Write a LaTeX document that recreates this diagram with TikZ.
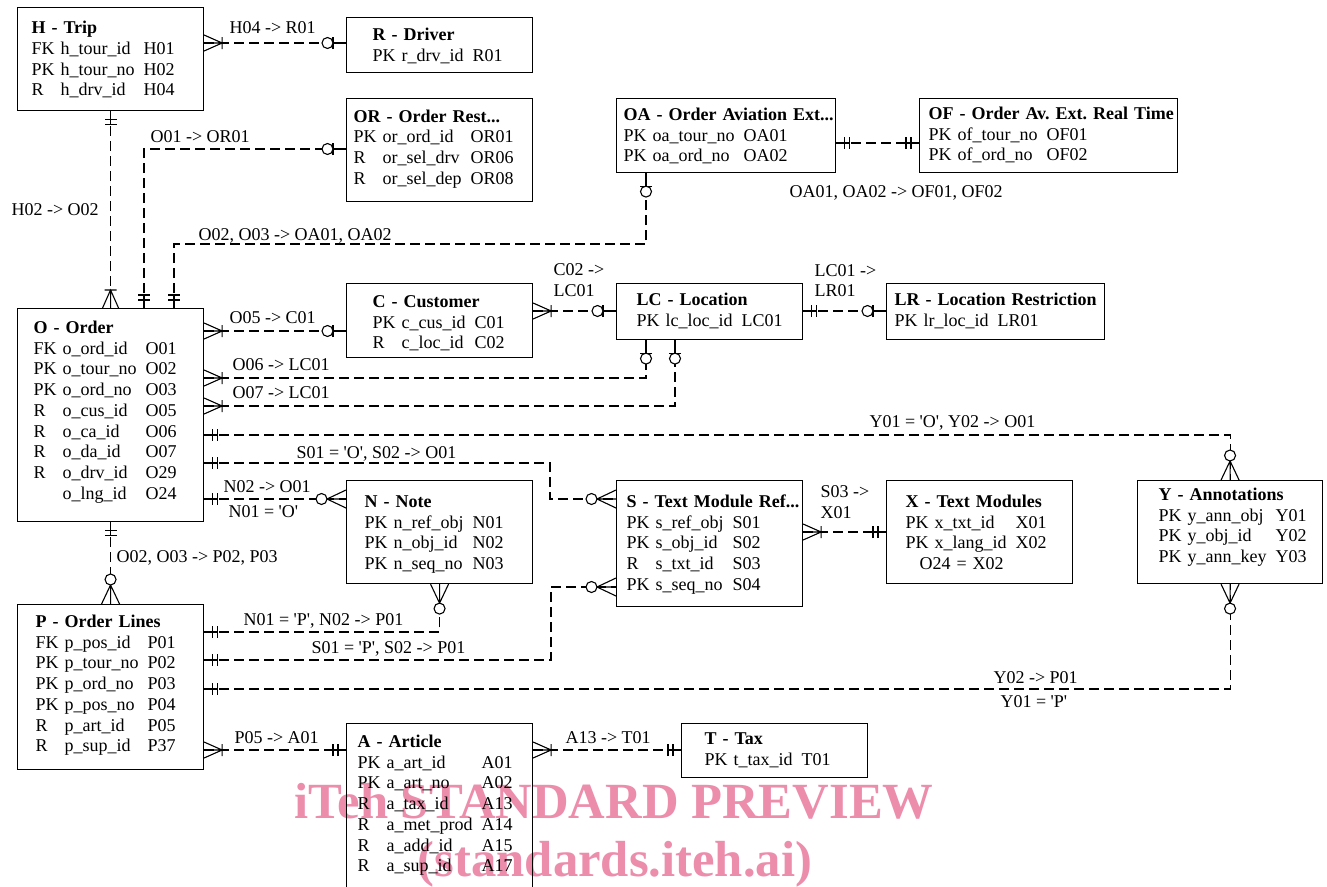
\documentclass[tikz,border=0pt]{standalone}
\usepackage{fontspec}
\setmainfont{Liberation Serif}
\usepackage{tikz}
\frenchspacing
\definecolor{wmpink}{RGB}{236,141,172}
\newcommand{\q}{\textquotesingle}
\newcommand{\ent}[2]{\noindent\begin{tabular}[t]{@{}l@{\hspace{6pt}}l@{\hspace{9pt}}l@{}}\multicolumn{3}{@{}l@{}}{\textbf{#1}}\\#2\end{tabular}}

\begin{document}
\begin{tikzpicture}[x=1pt,y=-1pt,line width=1.1pt,
  entity/.style={draw,anchor=north west,inner ysep=0pt,align=left,font=\fontsize{18}{20.7}\selectfont},
  dims/.style n args={4}{inner xsep=#1pt,text width=#2pt,text height=#3pt,text depth=#4pt},
  lbl/.style={anchor=base west,inner sep=0pt,font=\fontsize{18}{20.7}\selectfont},
  rel/.style={dash pattern=on 10pt off 5pt},
  wm/.style={anchor=base,inner sep=0pt,text=wmpink,font=\bfseries\fontsize{50.7}{60}\selectfont},
  onlyone/.pic={\draw[solid] (0,0) -- (14,0) (8,-6) -- (8,6) (13,-6) -- (13,6);},
  zeroone/.pic={\draw[solid] (0,0) -- (13,0) (13,-6) -- (13,6);
    \draw[solid,fill=white] (18.5,0) circle[radius=5.5];},
  onemany/.pic={\draw[solid] (0,0) -- (18,0) (0,-8) -- (18,0) -- (0,8) (18,-6) -- (18,6);},
  zeromany/.pic={\draw[solid] (0,0) -- (19,0) (0,-9) -- (19,0) -- (0,9);
    \draw[solid,fill=white] (24.5,0) circle[radius=5.5];}]
  \useasboundingbox (0,0) rectangle (1327,886);
  \clip (0,0) rectangle (1327,886);

  % Watermark
  \node[wm] (wm1) at (614,818) {iTeh STANDARD PREVIEW};
  \node[wm] (wm2) at (615,876) {(standards.iteh.ai)};

  % Tables
  \node[entity,dims={14}{158}{26.3}{76.7}] (H) at (17,7)
    {\ent{H - Trip}{FK & h\_tour\_id & H01\\ PK & h\_tour\_no & H02\\ R & h\_drv\_id & H04}};
  \node[entity,dims={26}{134}{23}{32}] (R) at (346,17)
    {\ent{R - Driver}{PK & r\_drv\_id & R01}};
  \node[entity,dims={7}{172}{23.7}{79.3}] (OR) at (346,98)
    {\ent{OR - Order Rest...}{PK & or\_ord\_id & OR01\\ R & or\_sel\_drv & OR06\\ R & or\_sel\_dep & OR08}};
  \node[entity,dims={7}{205}{22}{52}] (OA) at (616,98)
    {\ent{OA - Order Aviation Ext...}{PK & oa\_tour\_no & OA01\\ PK & oa\_ord\_no & OA02}};
  \node[entity,dims={9}{240}{21}{53}] (OF) at (919,98)
    {\ent{OF - Order Av. Ext. Real Time}{PK & of\_tour\_no & OF01\\ PK & of\_ord\_no & OF02}};
  \node[entity,dims={26}{134}{24}{50}] (C) at (346,283)
    {\ent{C - Customer}{PK & c\_cus\_id & C01\\ R & c\_loc\_id & C02}};
  \node[entity,dims={20}{146}{22}{34}] (LC) at (616,283)
    {\ent{LC - Location}{PK & lc\_loc\_id & LC01}};
  \node[entity,dims={8}{202}{22}{34}] (LR) at (886,283)
    {\ent{LR - Location Restriction}{PK & lr\_loc\_id & LR01}};
  \node[entity,dims={16}{154}{25}{188}] (O) at (17,308)
    {\ent{O - Order}{FK & o\_ord\_id & O01\\ PK & o\_tour\_no & O02\\ PK & o\_ord\_no & O03\\
      R & o\_cus\_id & O05\\ R & o\_ca\_id & O06\\ R & o\_da\_id & O07\\ R & o\_drv\_id & O29\\
      & o\_lng\_id & O24}};
  \node[entity,dims={18}{150}{27}{76}] (N) at (346,480)
    {\ent{N - Note}{PK & n\_ref\_obj & N01\\ PK & n\_obj\_id & N02\\ PK & n\_seq\_no & N03}};
  \node[entity,dims={10}{166}{27}{99}] (S) at (616,480)
    {\ent{S - Text Module Ref...}{PK & s\_ref\_obj & S01\\ PK & s\_obj\_id & S02\\ R & s\_txt\_id & S03\\
      PK & s\_seq\_no & S04}};
  \node[entity,dims={19}{148}{27}{76}] (X) at (886,480)
    {\ent{X - Text Modules}{PK & x\_txt\_id & X01\\ PK & x\_lang\_id & X02\\
      \multicolumn{3}{@{\hspace{14pt}}l}{O24 = X02}}};
  \node[entity,dims={21}{143}{20}{83}] (Y) at (1137,480)
    {\ent{Y - Annotations}{PK & y\_ann\_obj & Y01\\ PK & y\_obj\_id & Y02\\ PK & y\_ann\_key & Y03}};
  \node[entity,dims={18}{150}{23}{142}] (P) at (17,604)
    {\ent{P - Order Lines}{FK & p\_pos\_id & P01\\ PK & p\_tour\_no & P02\\ PK & p\_ord\_no & P03\\
      PK & p\_pos\_no & P04\\ R & p\_art\_id & P05\\ R & p\_sup\_id & P37}};
  \node[entity,dims={11}{164}{24}{160}] (A) at (346,723)
    {\ent{A - Article}{PK & a\_art\_id & A01\\ PK & a\_art\_no & A02\\ R & a\_tax\_id & A13\\
      R & a\_met\_prod & A14\\ R & a\_add\_id & A15\\ R & a\_sup\_id & A17}};
  \node[entity,dims={23}{140}{21}{33}] (T) at (681,723)
    {\ent{T - Tax}{PK & t\_tax\_id & T01}};

  % Relations
  \draw[rel] (H.east |- 0,43) -- (R.west |- 0,43);
  \pic at (H.east |- 0,43) {onemany};
  \pic[rotate=180] at (R.west |- 0,43) {zeroone};
  \node[lbl] (hr) at (229,33) {H04 -> R01};

  \draw[rel] (H.south) -- (O.north);
  \pic[rotate=-90] at (H.south) {onlyone};
  \pic[rotate=90] at (O.north) {onemany};
  \node[lbl] (ho) at (11,215) {H02 -> O02};

  \draw[rel] (O.north -| 144,0) |- (OR.west |- 0,149);
  \pic[rotate=90] at (O.north -| 144,0) {onlyone};
  \pic[rotate=180] at (OR.west |- 0,149) {zeroone};
  \node[lbl] (oor) at (150,142) {O01 -> OR01};

  \draw[rel] (O.north -| 174,0) |- (646,244) -- (OA.south -| 646,0);
  \pic[rotate=90] at (O.north -| 174,0) {onlyone};
  \pic[rotate=-90] at (OA.south -| 646,0) {zeroone};
  \node[lbl] (ooa) at (198,240) {O02, O03 -> OA01, OA02};

  \draw[rel] (OA.east |- 0,143) -- (OF.west |- 0,143);
  \pic at (OA.east |- 0,143) {onlyone};
  \pic[rotate=180] at (OF.west |- 0,143) {onlyone};
  \node[lbl] (oaof) at (789,197) {OA01, OA02 -> OF01, OF02};

  \draw[rel] (O.east |- 0,331) -- (C.west |- 0,331);
  \pic at (O.east |- 0,331) {onemany};
  \pic[rotate=180] at (C.west |- 0,331) {zeroone};
  \node[lbl] (oc) at (229,323) {O05 -> C01};

  \draw[rel] (C.east |- 0,311) -- (LC.west |- 0,311);
  \pic at (C.east |- 0,311) {onemany};
  \pic[rotate=180] at (LC.west |- 0,311) {zeroone};
  \node[lbl] (cla) at (553,275) {C02 ->};
  \node[lbl] (clb) at (553,296) {LC01};

  \draw[rel] (LC.east |- 0,311) -- (LR.west |- 0,311);
  \pic at (LC.east |- 0,311) {onlyone};
  \pic[rotate=180] at (LR.west |- 0,311) {zeroone};
  \node[lbl] (lra) at (814,276) {LC01 ->};
  \node[lbl] (lrb) at (814,296) {LR01};

  \draw[rel] (O.east |- 0,378) -| (LC.south -| 646,0);
  \pic at (O.east |- 0,378) {onemany};
  \pic[rotate=-90] at (LC.south -| 646,0) {zeroone};
  \node[lbl] (olc6) at (232,370) {O06 -> LC01};

  \draw[rel] (O.east |- 0,406) -| (LC.south -| 675,0);
  \pic at (O.east |- 0,406) {onemany};
  \pic[rotate=-90] at (LC.south -| 675,0) {zeroone};
  \node[lbl] (olc7) at (232,398) {O07 -> LC01};

  \draw[rel] (O.east |- 0,435) -| (Y.north);
  \pic at (O.east |- 0,435) {onlyone};
  \pic[rotate=90] at (Y.north) {zeromany};
  \node[lbl] (oy) at (869,427) {Y01 = \q O\q, Y02 -> O01};

  \draw[rel] (O.east |- 0,463) -- (550,463) |- (S.west |- 0,499);
  \pic at (O.east |- 0,463) {onlyone};
  \pic[rotate=180] at (S.west |- 0,499) {zeromany};
  \node[lbl] (os) at (296,458) {S01 = \q O\q, S02 -> O01};

  \draw[rel] (O.east |- 0,499) -- (N.west |- 0,499);
  \pic at (O.east |- 0,499) {onlyone};
  \pic[rotate=180] at (N.west |- 0,499) {zeromany};
  \node[lbl] (ona) at (223,492) {N02 -> O01};
  \node[lbl] (onb) at (228,517) {N01 = \q O\q};

  \draw[rel] (O.south) -- (P.north);
  \pic[rotate=-90] at (O.south) {onlyone};
  \pic[rotate=90] at (P.north) {zeromany};
  \node[lbl] (op) at (116,562) {O02, O03 -> P02, P03};

  \draw[rel] (P.east |- 0,632) -| (N.south);
  \pic at (P.east |- 0,632) {onlyone};
  \pic[rotate=-90] at (N.south) {zeromany};
  \node[lbl] (pn) at (243,625) {N01 = \q P\q, N02 -> P01};

  \draw[rel] (P.east |- 0,660) -- (551,660) |- (S.west |- 0,587);
  \pic at (P.east |- 0,660) {onlyone};
  \pic[rotate=180] at (S.west |- 0,587) {zeromany};
  \node[lbl] (ps) at (311,653) {S01 = \q P\q, S02 -> P01};

  \draw[rel] (P.east |- 0,689) -| (Y.south);
  \pic at (P.east |- 0,689) {onlyone};
  \pic[rotate=-90] at (Y.south) {zeromany};
  \node[lbl] (pya) at (993,683) {Y02 -> P01};
  \node[lbl] (pyb) at (1000,707) {Y01 = \q P\q};

  \draw[rel] (P.east |- 0,750) -- (A.west |- 0,750);
  \pic at (P.east |- 0,750) {onemany};
  \pic[rotate=180] at (A.west |- 0,750) {onlyone};
  \node[lbl] (pa) at (234,743) {P05 -> A01};

  \draw[rel] (A.east |- 0,750) -- (T.west |- 0,750);
  \pic at (A.east |- 0,750) {onemany};
  \pic[rotate=180] at (T.west |- 0,750) {onlyone};
  \node[lbl] (at) at (565,743) {A13 -> T01};

  \draw[rel] (S.east |- 0,532) -- (X.west |- 0,532);
  \pic at (S.east |- 0,532) {onemany};
  \pic[rotate=180] at (X.west |- 0,532) {onlyone};
  \node[lbl] (sxa) at (820,497) {S03 ->};
  \node[lbl] (sxb) at (820,518) {X01};
\end{tikzpicture}
\end{document}
